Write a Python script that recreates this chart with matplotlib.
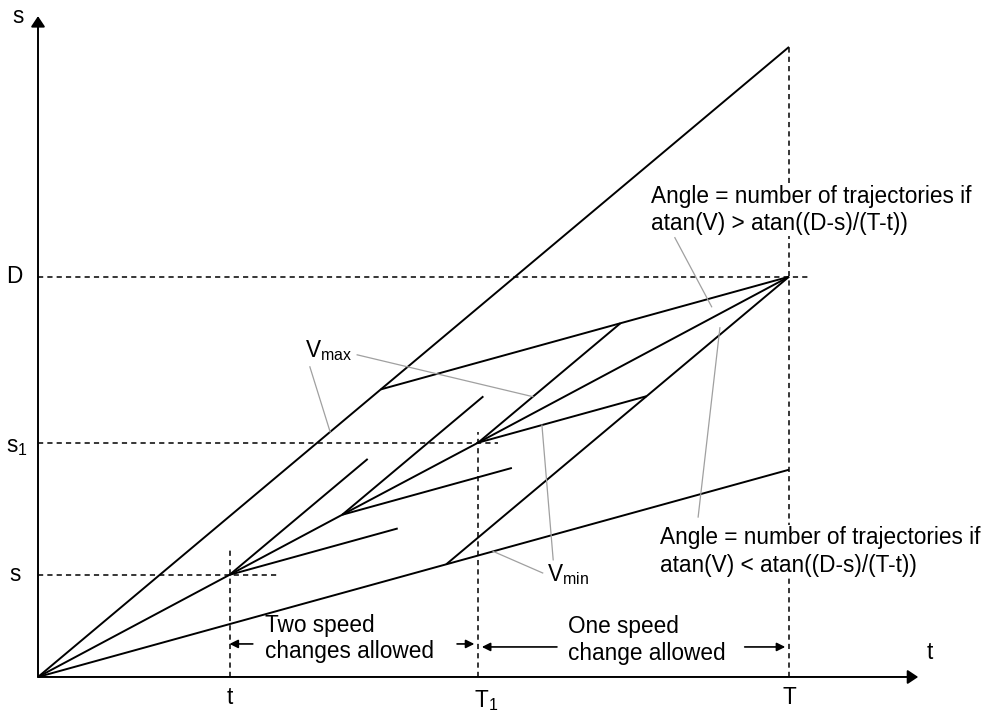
import matplotlib.pyplot as plt

plt.rcParams['font.family'] = ['Liberation Sans', 'DejaVu Sans']
plt.rcParams['mathtext.fontset'] = 'custom'
plt.rcParams['mathtext.rm'] = 'Liberation Sans'
plt.rcParams['mathtext.it'] = 'Liberation Sans:italic'

# diagram values (time units on x, distance on y)
t_now = 2.55
T1 = 5.86
T_end = 10.0
s_now = 1.36
s1 = 3.12
D = 5.33
vmax = 0.839
vmin = 0.276
t_mid, s_mid = 4.05, 2.16          # branch point on the nominal path
stub_s = [4.39, 4.79]              # end x of vmax / vmin stubs from (t, s)
stub_mid = [5.93, 6.31]            # end x of vmax / vmin stubs from mid point

FS = 16.3
BLACK = dict(color='black', lw=1.4, solid_capstyle='butt')
DASH = dict(color='black', lw=1.1, ls=(0, (3.4, 2.7)))
GREY = dict(color='#a0a0a0', lw=0.9)


def meet(p, v1, q, v2):
    x = (q[1] - p[1] + v1 * p[0] - v2 * q[0]) / (v1 - v2)
    return x, p[1] + v1 * (x - p[0])


def seg(p, v, x_end):
    return [p[0], x_end], [p[1], p[1] + v * (x_end - p[0])]


fig = plt.figure(figsize=(9.89, 7.11), dpi=100)
ax = fig.add_axes([0, 0, 1, 1])
ax.set_xlim(-0.506, 12.663)
ax.set_ylim(-0.453, 9.015)
ax.axis('off')

O = (0, 0)
pt_s = (t_now, s_now)
pt_mid = (t_mid, s_mid)
pt_s1 = (T1, s1)
pt_D = (T_end, D)

# dashed guides
ax.plot([t_now, t_now], [0, 1.72], **DASH)
ax.plot([0, 3.22], [s_now, s_now], **DASH)
ax.plot([T1, T1], [0, 3.26], **DASH)
ax.plot([0, 6.13], [s1, s1], **DASH)
ax.plot([T_end, T_end], [0, vmax * T_end], **DASH)
ax.plot([0, 10.25], [D, D], **DASH)

# main trajectories
ax.plot([0, T_end], [0, vmax * T_end], **BLACK)
ax.plot([0, T_end], [0, vmin * T_end], **BLACK)
ax.plot([0, t_now, t_mid, T1, T_end], [0, s_now, s_mid, s1, D], **BLACK)

# vmax then vmin into D
a = meet(O, vmax, pt_D, vmin)
ax.plot([a[0], T_end], [a[1], D], **BLACK)
# vmin then vmax into D
b = meet(O, vmin, pt_D, vmax)
ax.plot([b[0], T_end], [b[1], D], **BLACK)

# stubs from (t, s) and from mid point
ax.plot(*seg(pt_s, vmax, stub_s[0]), **BLACK)
ax.plot(*seg(pt_s, vmin, stub_s[1]), **BLACK)
ax.plot(*seg(pt_mid, vmax, stub_mid[0]), **BLACK)
ax.plot(*seg(pt_mid, vmin, stub_mid[1]), **BLACK)

# from s1
c = meet(pt_s1, vmax, pt_D, vmin)
ax.plot([T1, c[0]], [s1, c[1]], **BLACK)
d = meet(pt_s1, vmin, pt_D, vmax)
ax.plot([T1, d[0]], [s1, d[1]], **BLACK)

# axes with arrows
head = dict(arrowstyle='-|>,head_length=0.45,head_width=0.3', color='black',
            lw=1.4, mutation_scale=14, shrinkA=0, shrinkB=0)
ax.annotate('', xy=(0, 8.80), xytext=(0, 0), arrowprops=head)
ax.annotate('', xy=(11.72, 0), xytext=(0, 0), arrowprops=head)
ax.text(-0.27, 8.80, 's', fontsize=FS, ha='center', va='center')
ax.text(11.88, 0.33, 't', fontsize=FS, ha='center', va='center')

# tick labels
ax.text(t_now, -0.27, 't', fontsize=FS, ha='center', va='center')
ax.text(T1 + 0.1, -0.31, r'T$_1$', fontsize=FS, ha='center', va='center')
ax.text(T_end, -0.27, 'T', fontsize=FS, ha='center', va='center')
ax.text(-0.31, s_now, 's', fontsize=FS, ha='center', va='center')
ax.text(-0.28, s1 - 0.05, r's$_1$', fontsize=FS, ha='center', va='center')
ax.text(-0.31, D, 'D', fontsize=FS, ha='center', va='center')

# speed labels and leaders
ax.text(3.56, 4.35, r'V$_{\mathrm{max}}$', fontsize=FS, ha='left', va='center')
x1 = 3.89
ax.plot([3.62, x1], [4.13, vmax * x1], **GREY)
x2 = 6.59
ax.plot([4.25, x2], [4.29, s1 + vmax * (x2 - T1)], **GREY)

ax.text(6.78, 1.37, r'V$_{\mathrm{min}}$', fontsize=FS, ha='left', va='center')
x3 = 6.06
ax.plot([6.72, x3], [1.385, vmin * x3], **GREY)
x4 = 6.71
ax.plot([6.86, x4], [1.56, s1 + vmin * (x4 - T1)], **GREY)

# angle notes
box = dict(facecolor='white', edgecolor='none', pad=1)
ax.text(8.16, 6.22, 'Angle = number of trajectories if\natan(V) > atan((D-s)/(T-t))',
        fontsize=FS, ha='left', va='center', linespacing=1.25, bbox=box)
ax.plot([8.48, 8.97], [5.85, 4.93], **GREY)
ax.text(8.28, 1.67, 'Angle = number of trajectories if\natan(V) < atan((D-s)/(T-t))',
        fontsize=FS, ha='left', va='center', linespacing=1.25, bbox=box)
ax.plot([8.79, 9.08], [2.13, 4.65], **GREY)

# allowed-change spans
small = dict(arrowstyle='-|>,head_length=0.5,head_width=0.25', color='black',
             lw=1.2, mutation_scale=10, shrinkA=0, shrinkB=0)
ax.annotate('', xy=(t_now, 0.44), xytext=(2.86, 0.44), arrowprops=small)
ax.annotate('', xy=(T1 - 0.05, 0.44), xytext=(5.58, 0.44), arrowprops=small)
ax.text(3.02, 0.51, 'Two speed\nchanges allowed', fontsize=FS, ha='left',
        va='center', linespacing=1.2)
ax.annotate('', xy=(T1 + 0.05, 0.40), xytext=(6.91, 0.40), arrowprops=small)
ax.annotate('', xy=(T_end - 0.05, 0.40), xytext=(9.41, 0.40), arrowprops=small)
ax.text(7.06, 0.49, 'One speed\nchange allowed', fontsize=FS, ha='left',
        va='center', linespacing=1.2)

fig.savefig('out.png', dpi=100)
